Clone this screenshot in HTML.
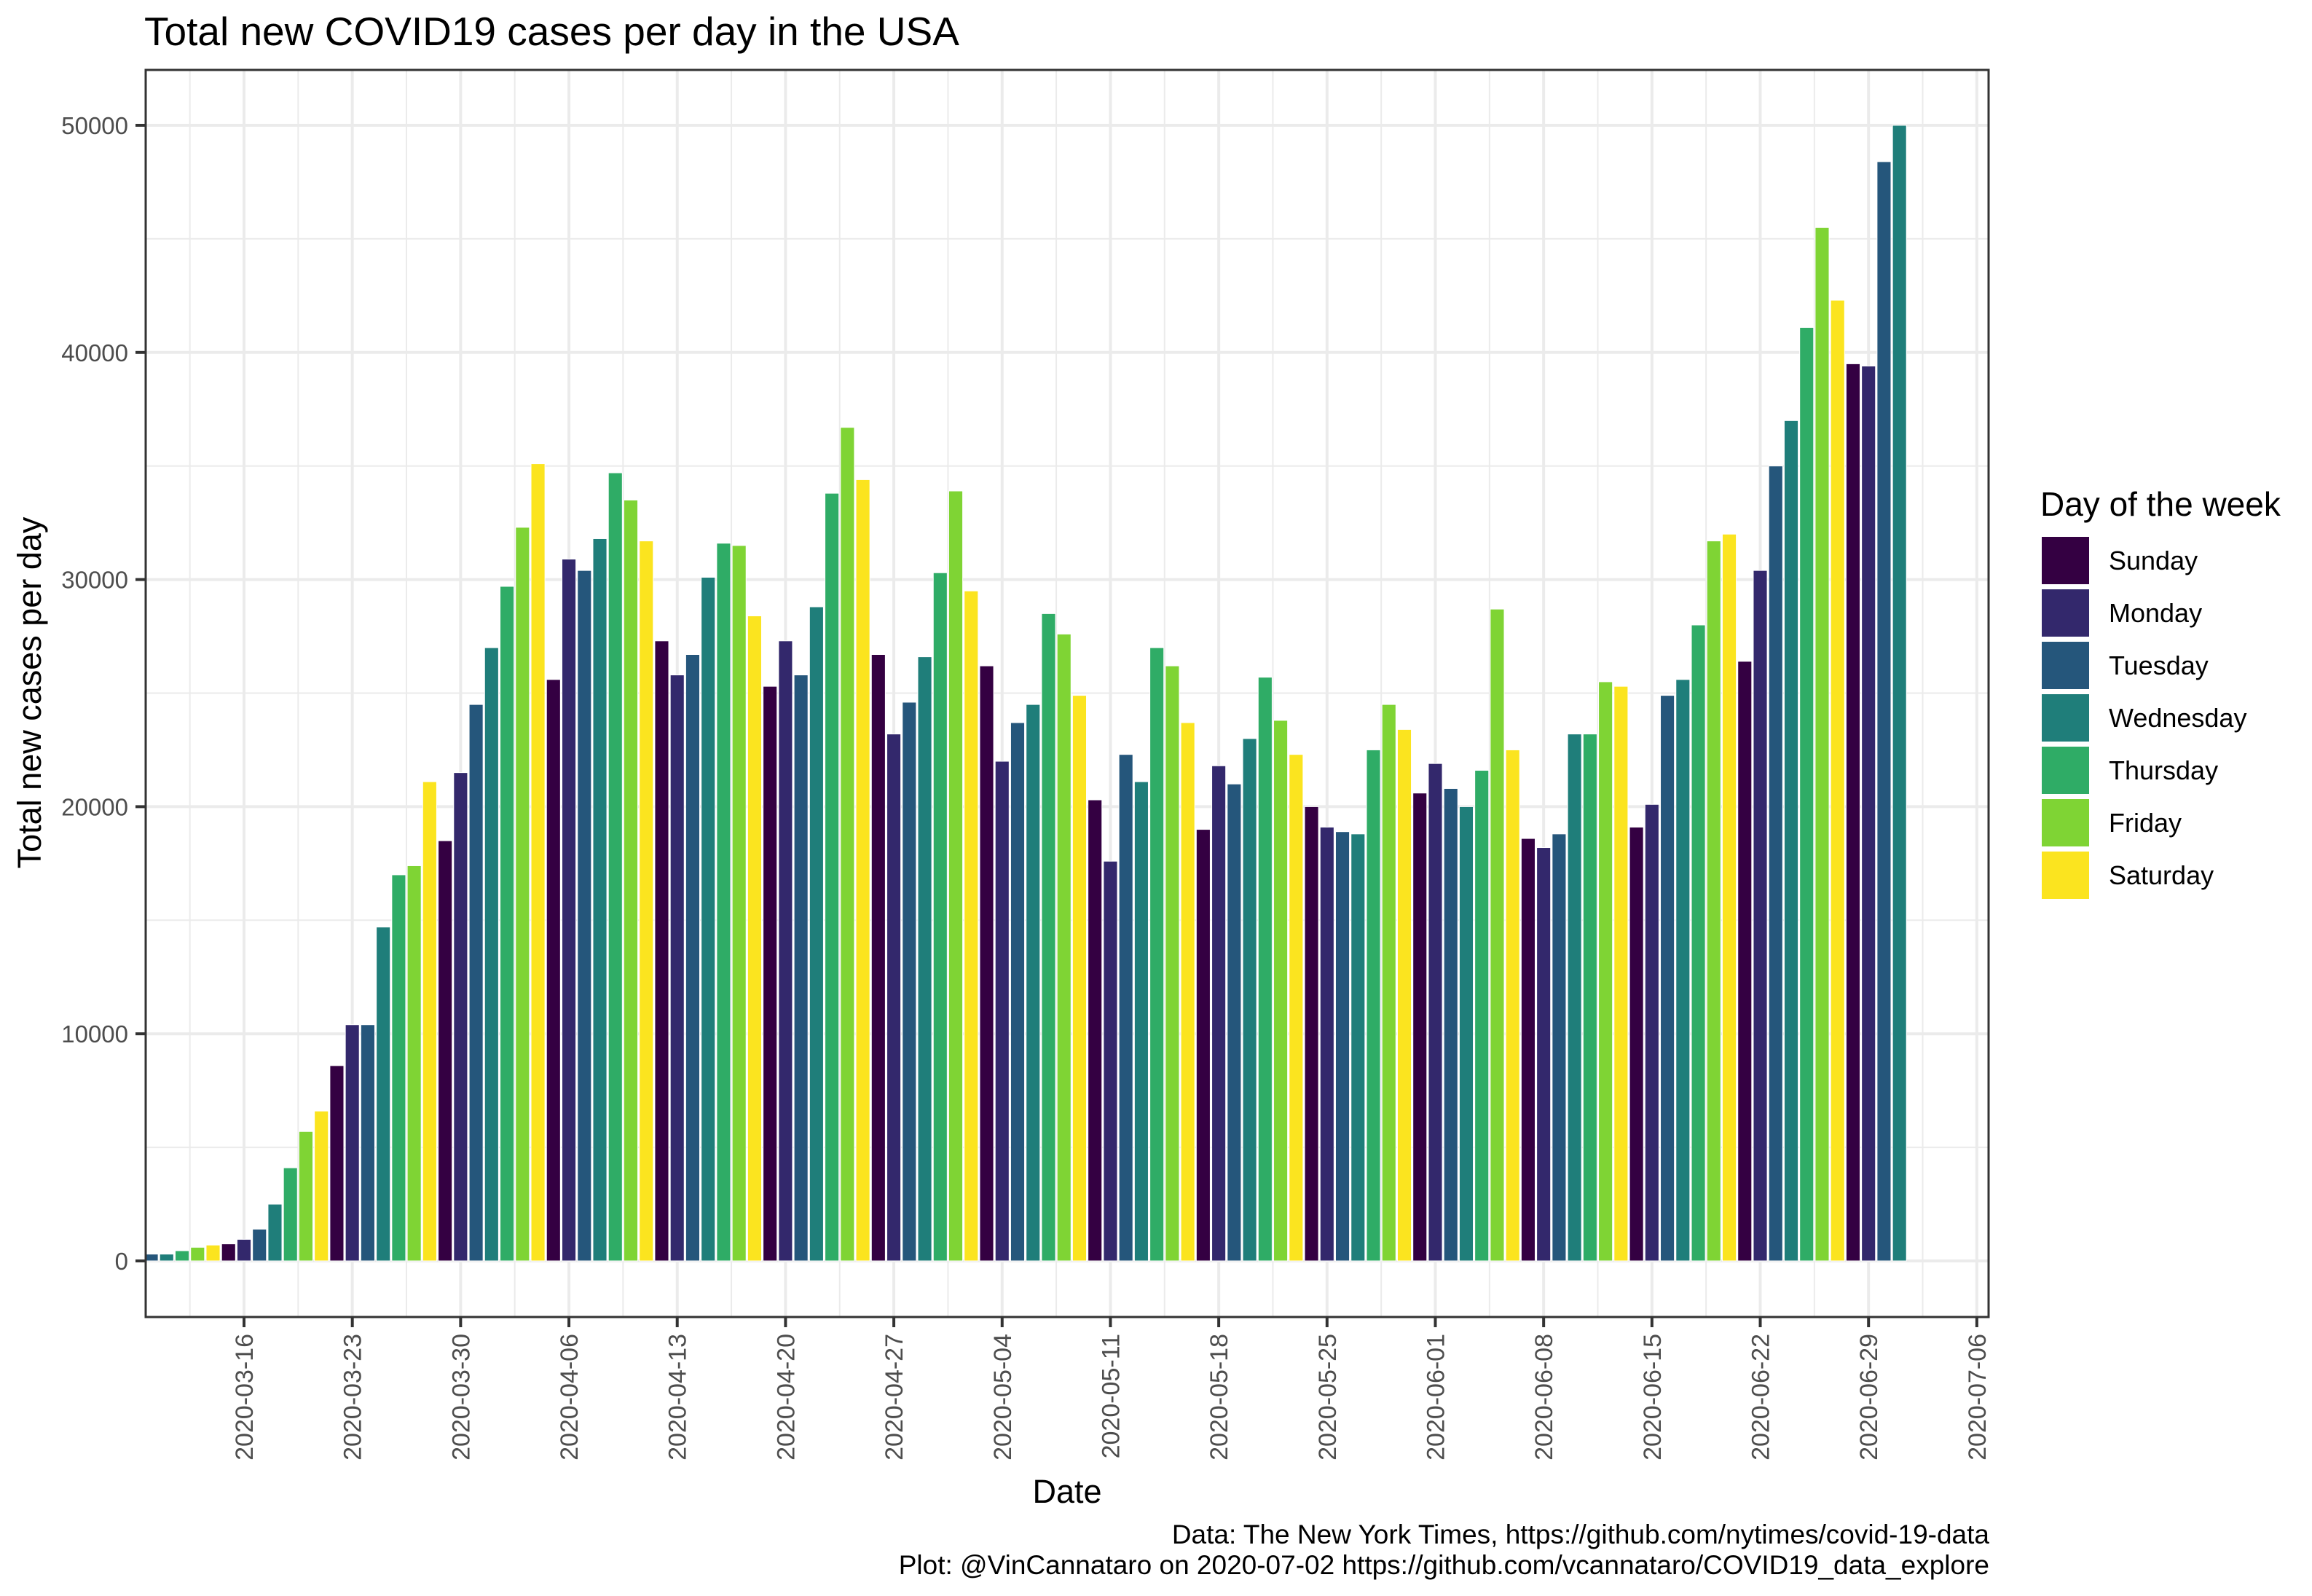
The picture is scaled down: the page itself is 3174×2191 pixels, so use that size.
<!DOCTYPE html>
<html><head><meta charset="utf-8"><style>
html,body{margin:0;padding:0;background:#fff}
svg{display:block;font-family:"Liberation Sans",Arial,sans-serif}
</style></head><body>
<svg id="chart" width="3174" height="2191" viewBox="0 0 3174 2191" xmlns="http://www.w3.org/2000/svg">
<rect x="0" y="0" width="3174" height="2191" fill="#fff"/>
<text x="198" y="62" font-size="55" fill="#000">Total new COVID19 cases per day in the USA</text>
<g id="grid"></g>
<g id="bars"></g>
<rect x="200" y="96" width="2530" height="1712" fill="none" stroke="#333" stroke-width="3"/>
<g id="axes"></g>
<text x="1465" y="2063" font-size="45" text-anchor="middle" fill="#000">Date</text>
<text transform="translate(56,951) rotate(-90)" font-size="45" text-anchor="middle" fill="#000">Total new cases per day</text>
<g id="legend">
<text x="2801" y="708" font-size="46" fill="#000">Day of the week</text>
</g>
<text x="2731" y="2119" font-size="37" text-anchor="end" fill="#000">Data: The New York Times, https://github.com/nytimes/covid-19-data</text>
<text x="2731" y="2161" font-size="37" text-anchor="end" fill="#000">Plot: @VinCannataro on 2020-07-02 https://github.com/vcannataro/COVID19_data_explore</text>
</svg>
<script>
const startDate = "2020-03-10";
const cases = [300,300,450,600,700,750,950,1400,2500,4100,5700,6600,8600,10400,10400,14700,17000,17400,21100,18500,21500,24500,27000,29700,32300,35100,
25600,30900,30400,31800,34700,33500,31700,27300,25800,26700,30100,31600,31500,28400,25300,27300,25800,28800,33800,36700,34400,
26700,23200,24600,26600,30300,33900,29500,26200,22000,23700,24500,28500,27600,24900,20300,17600,22300,21100,27000,26200,23700,
19000,21800,21000,23000,25700,23800,22300,20000,19100,18900,18800,22500,24500,23400,20600,21900,20800,20000,21600,28700,22500,
18600,18200,18800,23200,23200,25500,25300,19100,20100,24900,25600,28000,31700,32000,26400,30400,35000,37000,41100,45500,42300,
39500,39400,48400,50000];
const dayNames = ["Sunday","Monday","Tuesday","Wednesday","Thursday","Friday","Saturday"];
const dayColors = ["#340042","#33286c","#25567b","#1f7e7a","#2fac66","#7fd434","#fbe41f"];
const yTicks = [0,10000,20000,30000,40000,50000];
const xTickLabels = ["2020-03-16","2020-03-23","2020-03-30","2020-04-06","2020-04-13","2020-04-20","2020-04-27","2020-05-04","2020-05-11","2020-05-18","2020-05-25","2020-06-01","2020-06-08","2020-06-15","2020-06-22","2020-06-29","2020-07-06"];

const NS="http://www.w3.org/2000/svg";
const DAY=86400000;
const t0=Date.parse("2020-03-16T00:00:00Z");
function xScale(dateStr){return 335+(Date.parse(dateStr+"T00:00:00Z")-t0)/DAY*21.24;}
function xDay(i){return xScale(startDate)+i*21.24;}
function yScale(v){return 1731-v*(1731-172)/50000;}
function mk(tag,attrs,parent){const e=document.createElementNS(NS,tag);for(const k in attrs)e.setAttribute(k,attrs[k]);parent.appendChild(e);return e;}
const PL=200,PR=2730,PT=96,PB=1808;
const grid=document.getElementById('grid'),bars=document.getElementById('bars'),axes=document.getElementById('axes'),legend=document.getElementById('legend');
mk('rect',{x:PL,y:PT,width:PR-PL,height:PB-PT,fill:'#fff'},grid);
for(let i=0;i<yTicks.length;i++){
  const v=yTicks[i]+5000;const y=yScale(v);
  if(y>PT&&y<PB){const l=mk('line',{x1:PL,x2:PR,y1:y,y2:y,stroke:'#ebebeb','stroke-width':2},grid);
  
  }
}
for(let i=-1;i<xTickLabels.length;i++){
  const base=i<0?xScale(xTickLabels[0])-7*21.24:xScale(xTickLabels[i]);
  const x=base+3.5*21.24;
  if(x>PL&&x<PR){const l=mk('line',{x1:x,x2:x,y1:PT,y2:PB,stroke:'#ebebeb','stroke-width':2},grid);
  
  }
}
yTicks.forEach(v=>{
  const y=yScale(v);
  const l=mk('line',{x1:PL,x2:PR,y1:y,y2:y,stroke:'#ebebeb','stroke-width':4},grid);
  
  
  const t=mk('line',{x1:186,x2:PL,y1:y,y2:y,stroke:'#333','stroke-width':4},axes);
  
  
  const tx=mk('text',{x:176,y:y+12,'font-size':33,'text-anchor':'end',fill:'#4d4d4d'},axes);
  tx.textContent=v;
  
  
});
xTickLabels.forEach(d=>{
  const x=xScale(d);
  const l=mk('line',{x1:x,x2:x,y1:PT,y2:PB,stroke:'#ebebeb','stroke-width':4},grid);
  
  
  const t=mk('line',{x1:x,x2:x,y1:PB,y2:PB+14,stroke:'#333','stroke-width':4},axes);
  
  
  const tx=mk('text',{transform:`translate(${x+12},1831) rotate(-90)`,'font-size':34,'text-anchor':'end',fill:'#4d4d4d'},axes);
  tx.textContent=d;
  
  
});
const startDow=new Date(startDate+"T00:00:00Z").getUTCDay();
cases.forEach((v,i)=>{
  const dow=(startDow+i)%7;
  const cx=xDay(i),w=19.1,y=yScale(v),y0=yScale(0);
  const r=mk('rect',{x:cx-w/2,y:y,width:w,height:y0-y,fill:dayColors[dow],stroke:'#fff','stroke-width':1},bars);
  
  
});
dayNames.forEach((n,i)=>{
  const y=737+i*72;
  const r=mk('rect',{x:2803,y:y,width:65,height:65,fill:dayColors[i]},legend);
  
  
  const t=mk('text',{x:2895,y:y+45,'font-size':36,fill:'#000'},legend);
  t.textContent=n;
  
  
});
</script>
</body></html>
